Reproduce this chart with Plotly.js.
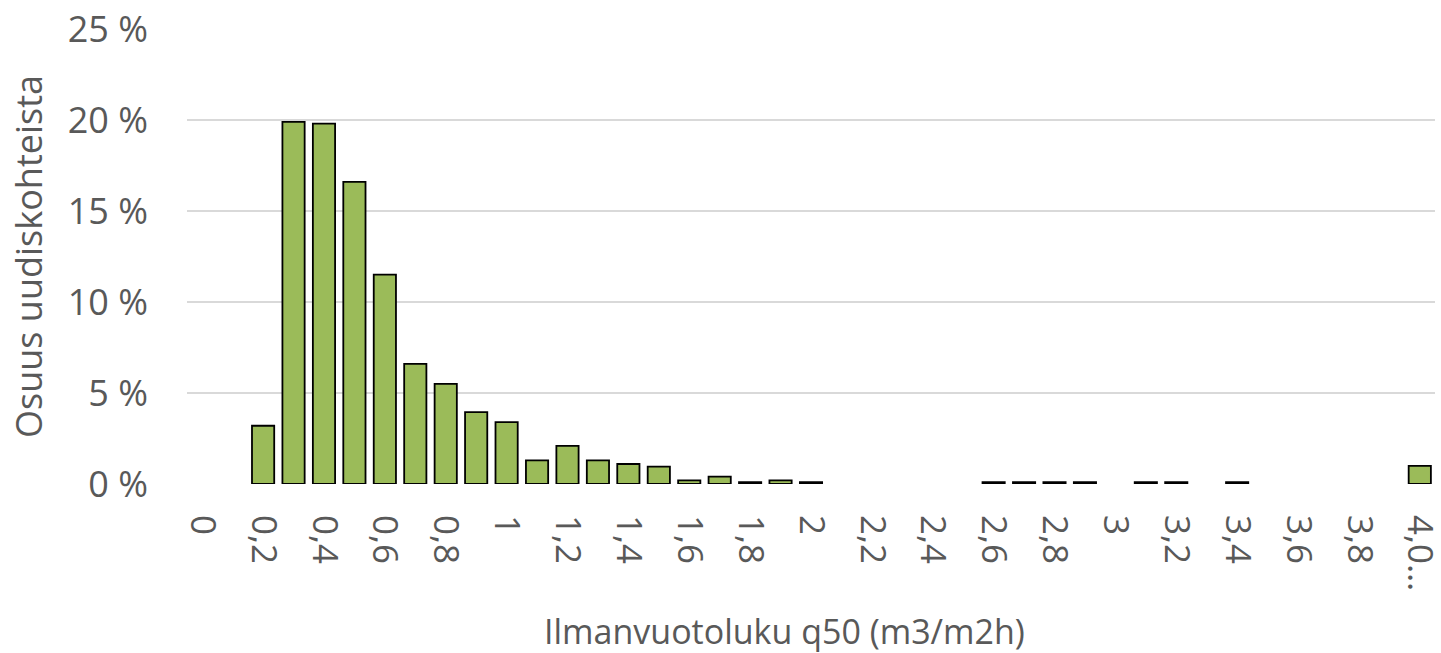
<!DOCTYPE html>
<html>
<head>
<meta charset="utf-8">
<script src="https://cdn.plot.ly/plotly-3.0.1.min.js"></script>
<style>
  html, body { margin: 0; padding: 0; background: #ffffff; }
  #chart { width: 1441px; height: 653px; }
</style>
</head>
<body>
<div id="chart"></div>
<script>
// Air leakage rate classes (q50, m3/m2h), 0,1 wide each; the last class is open-ended
const categories = [
  "0", "0,1", "0,2", "0,3", "0,4", "0,5", "0,6", "0,7", "0,8", "0,9",
  "1", "1,1", "1,2", "1,3", "1,4", "1,5", "1,6", "1,7", "1,8", "1,9",
  "2", "2,1", "2,2", "2,3", "2,4", "2,5", "2,6", "2,7", "2,8", "2,9",
  "3", "3,1", "3,2", "3,3", "3,4", "3,5", "3,6", "3,7", "3,8", "3,9",
  "4,0…"
];

// Share of new buildings in each class, percent
const shares = [
  0, 0, 3.2, 19.9, 19.8, 16.6, 11.5, 6.6, 5.5, 3.95,
  3.4, 1.3, 2.1, 1.3, 1.1, 0.95, 0.2, 0.4, 0.1, 0.2,
  0.1, 0, 0, 0, 0, 0, 0.1, 0.1, 0.1, 0.1,
  0, 0.1, 0.1, 0, 0.1, 0, 0, 0, 0, 0,
  1.0
];

// Every other class gets a label on the category axis
const labelledCategories = categories.filter((c, i) => i % 2 === 0);

const yTicks = [0, 5, 10, 15, 20, 25];

const font = "Open Sans, sans-serif";
const textColor = "#595959";

const trace = {
  type: "bar",
  x: categories,
  y: shares,
  marker: {
    color: "#9BBB59",
    // empty classes get no outline, so nothing is drawn for them
    line: { color: "#000000", width: shares.map(v => (v > 0 ? 1.8 : 0)) }
  },
  hoverinfo: "x+y"
};

const layout = {
  width: 1441,
  height: 653,
  paper_bgcolor: "#ffffff",
  plot_bgcolor: "#ffffff",
  margin: { l: 187, r: 6, t: 28.5, b: 168.5, pad: 0 },
  bargap: 0.27,
  showlegend: false,
  font: { family: font, color: textColor, size: 36 },
  xaxis: {
    type: "category",
    categoryorder: "array",
    categoryarray: categories,
    tickmode: "array",
    tickvals: labelledCategories,
    ticktext: labelledCategories,
    tickangle: 90,
    ticks: "",
    ticklabelstandoff: 30,
    showgrid: false,
    showline: false,
    zeroline: false,
    automargin: false,
    tickfont: { family: font, size: 35, color: textColor }
  },
  yaxis: {
    range: [0, 25],
    tickmode: "array",
    tickvals: yTicks,
    ticktext: yTicks.map(v => v + " %"),
    ticks: "",
    ticklabelstandoff: 38,
    showgrid: true,
    gridcolor: "#D9D9D9",
    gridwidth: 1.3,
    zeroline: false,
    showline: false,
    automargin: false,
    tickfont: { family: font, size: 36, color: textColor },
    title: {
      text: "Osuus uudiskohteista",
      font: { family: font, size: 36, color: textColor },
      standoff: 14
    }
  },
  annotations: [{
    text: "Ilmanvuotoluku q50 (m3/m2h)",
    xref: "paper",
    yref: "paper",
    x: 0.479,
    y: -0.323,
    xanchor: "center",
    yanchor: "middle",
    showarrow: false,
    font: { family: font, size: 34, color: textColor }
  }]
};

Plotly.newPlot("chart", [trace], layout, { staticPlot: true, displayModeBar: false });
</script>
</body>
</html>
